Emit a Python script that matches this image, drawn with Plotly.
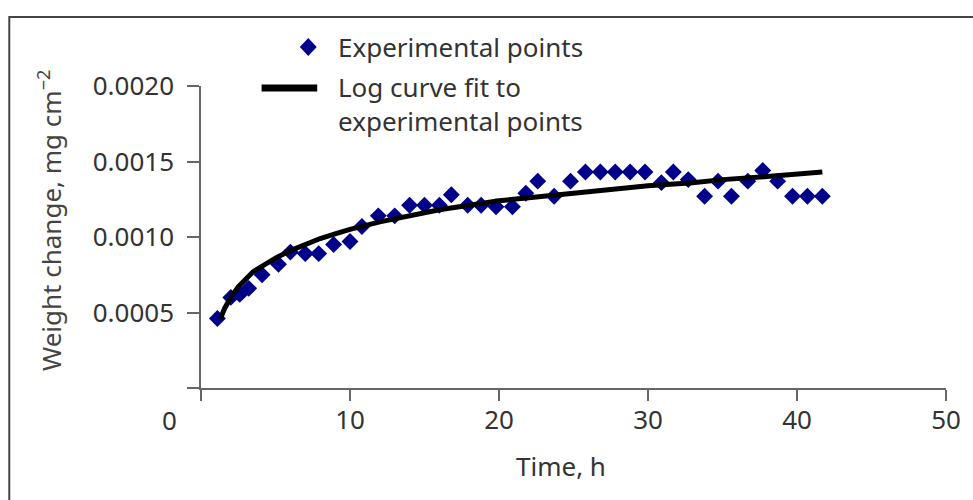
import plotly.graph_objects as go

# ---- data ----
time_h = [1.1, 2.0, 2.6, 3.2, 4.1, 5.2, 6.0, 7.0, 7.9, 8.9, 10.0, 10.8, 11.9, 13.0, 14.0,
          15.0, 16.0, 16.8, 17.9, 18.8, 19.8, 20.9, 21.8, 22.6, 23.7, 24.8, 25.8, 26.8,
          27.8, 28.8, 29.8, 30.9, 31.7, 32.7, 33.8, 34.7, 35.6, 36.7, 37.7, 38.7, 39.7,
          40.7, 41.7]
weight = [0.00046, 0.00060, 0.00062, 0.00066, 0.00075, 0.00082, 0.00090, 0.00089, 0.00089,
          0.00095, 0.00097, 0.00107, 0.00114, 0.00114, 0.00121, 0.00121, 0.00121, 0.00128,
          0.00121, 0.00121, 0.00120, 0.00120, 0.00129, 0.00137, 0.00127, 0.00137, 0.00143,
          0.00143, 0.00143, 0.00143, 0.00143, 0.00136, 0.00143, 0.00138, 0.00127, 0.00137,
          0.00127, 0.00137, 0.00144, 0.00137, 0.00127, 0.00127, 0.00127]

fit_time = [1.3, 1.6, 2.0, 2.5, 3.0, 3.5, 4.0, 5.0, 6.0, 7.0, 8.0, 9.0, 10.0, 12.0, 14.0,
            16.0, 18.0, 20.0, 22.0, 25.0, 28.0, 30.0, 33.0, 35.0, 38.0, 40.0, 41.7]
fit_weight = [0.00046, 0.00053, 0.00060, 0.00067, 0.00072, 0.00077, 0.00080, 0.00086,
              0.00091, 0.00095, 0.00099, 0.00102, 0.00105, 0.00110, 0.00114, 0.00118,
              0.00121, 0.00124, 0.00126, 0.00129, 0.00132, 0.00134, 0.00136, 0.00138,
              0.00140, 0.00142, 0.00143]

x_ticks = [10, 20, 30, 40, 50]
y_ticks = [0.0005, 0.0010, 0.0015, 0.0020]
y_ticktext = ["0.0005", "0.0010", "0.0015", "0.0020"]

x_title = "Time, h"
y_title = "Weight change, mg cm<sup>\u22122</sup>"
legend_points = "Experimental points"
legend_fit = "Log curve fit to<br>experimental points"

# ---- layout geometry ----
W, H = 973, 500
L, R, T, B = 201, 22, 86, 112
PW, PH = W - L - R, H - T - B

def px(x):
    return (x - L) / PW

def py(y):
    return (H - B - y) / PH

FONT = "Noto Sans"
FS = 26
TXT = "#333333"
AX = "#666666"

fig = go.Figure()
fig.add_trace(go.Scatter(
    x=time_h, y=weight, mode="markers", name=legend_points,
    marker=dict(symbol="diamond", size=13, color="#00008b", line=dict(width=0)),
    showlegend=False, cliponaxis=False))
fig.add_trace(go.Scatter(
    x=fit_time, y=fit_weight, mode="lines", name="Log curve fit to experimental points",
    line=dict(color="#000000", width=5),
    showlegend=False))

axis_common = dict(showline=True, linecolor=AX, linewidth=1.5, ticks="outside",
                   tickcolor=AX, tickwidth=1.5, showgrid=False, zeroline=False,
                   tickfont=dict(family=FONT, size=FS, color=TXT))

fig.update_xaxes(range=[0, 50], tickvals=x_ticks, ticklen=11, ticklabelstandoff=-3,
                 minor=dict(tickvals=[0], ticklen=11, ticks="outside", tickcolor=AX,
                            tickwidth=1.5, showgrid=False),
                 **axis_common)
fig.update_yaxes(range=[0, 0.002], tickvals=y_ticks, ticktext=y_ticktext, ticklen=12,
                 ticklabelstandoff=8,
                 minor=dict(tickvals=[0], ticklen=12, ticks="outside", tickcolor=AX,
                            tickwidth=1.5, showgrid=False),
                 **axis_common)

ann = []
ann.append(dict(x=px(169), y=py(420), xref="paper", yref="paper", text="0",
                showarrow=False, xanchor="center", yanchor="middle",
                font=dict(family=FONT, size=FS, color=TXT)))
ann.append(dict(x=px(563), y=py(466), xref="paper", yref="paper", text=x_title,
                showarrow=False, xanchor="center", yanchor="middle",
                font=dict(family=FONT, size=FS, color=TXT)))
ann.append(dict(x=px(49), y=py(221), xref="paper", yref="paper",
                text=y_title, textangle=-90,
                showarrow=False, xanchor="center", yanchor="middle",
                font=dict(family=FONT, size=FS, color="#444444")))
ann.append(dict(x=px(337), y=py(47), xref="paper", yref="paper", text=legend_points,
                showarrow=False, xanchor="left", yanchor="middle",
                font=dict(family=FONT, size=FS, color=TXT)))
ann.append(dict(x=px(337), y=py(104), xref="paper", yref="paper", text=legend_fit,
                showarrow=False, xanchor="left", yanchor="middle", align="left",
                font=dict(family=FONT, size=FS, color=TXT)))

shapes = []
# outer frame
shapes.append(dict(type="rect", xref="paper", yref="paper",
                   x0=px(8), y0=py(520), x1=px(990), y1=py(17),
                   line=dict(color="#444444", width=2), fillcolor="rgba(0,0,0,0)"))
# legend glyphs
cx, cy, hw, hh = 309, 47, 8.5, 9
shapes.append(dict(type="path", xref="paper", yref="paper",
                   path=f"M {px(cx-hw)} {py(cy)} L {px(cx)} {py(cy-hh)} L {px(cx+hw)} {py(cy)} "
                        f"L {px(cx)} {py(cy+hh)} Z",
                   fillcolor="#00008b", line=dict(width=0)))
shapes.append(dict(type="line", xref="paper", yref="paper",
                   x0=px(262), y0=py(88), x1=px(318), y1=py(88),
                   line=dict(color="#000000", width=7)))

fig.update_layout(width=W, height=H, margin=dict(l=L, r=R, t=T, b=B),
                  paper_bgcolor="white", plot_bgcolor="white",
                  annotations=ann, shapes=shapes, showlegend=False,
                  font=dict(family=FONT, size=FS, color=TXT))

fig.write_html("out.html")
